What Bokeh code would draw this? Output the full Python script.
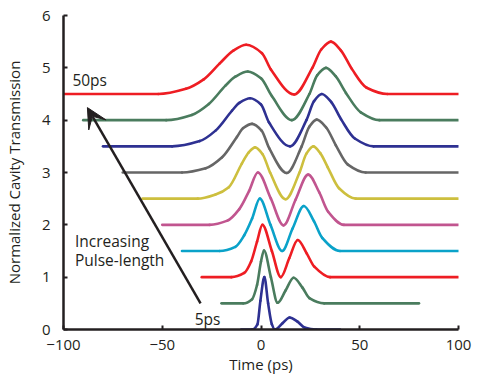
from bokeh.plotting import figure
from bokeh.models import Range1d, Arrow, VeeHead, FixedTicker, ColumnDataSource
from bokeh.core.properties import value
from bokeh.embed import file_html
from bokeh.resources import INLINE

# ---- data (time in ps, normalized transmission with offsets) ----
t_5ps = [-10, -4.5, -1.8, -0.3, 1.7, 3.6, 5.5, 7.0, 10.9, 14.5, 18.5, 22, 28, 40]
v_5ps = [0, 0, 0.1, 0.55, 1.0, 0.5, 0.1, 0.0, 0.12, 0.23, 0.15, 0.04, 0, 0]
t_10ps = [-20, -9, -4.5, -2, 0, 1.5, 5.0, 8.4, 12.5, 16.5, 21, 24.5, 32, 80]
v_10ps = [0.5, 0.5, 0.58, 0.85, 1.3, 1.51, 1.0, 0.51, 0.75, 0.99, 0.8, 0.6, 0.5, 0.5]
t_15ps = [-30, -15, -8.5, -5, -2, 0.7, 5.5, 10.0, 14.3, 18.6, 23.2, 27, 35, 100]
v_15ps = [1, 1, 1.08, 1.3, 1.68, 2.0, 1.5, 1.0, 1.36, 1.71, 1.45, 1.2, 1.0, 1.0]
t_20ps = [-40, -21, -13, -8.5, -4.5, -0.6, 4.8, 10.7, 16, 21.7, 26.8, 31, 40, 100]
v_20ps = [1.5, 1.5, 1.58, 1.8, 2.12, 2.5, 2.0, 1.5, 1.93, 2.36, 2.07, 1.75, 1.5, 1.5]
t_25ps = [-50, -26, -17, -11, -6, -1.6, 5.0, 11.4, 17.5, 23.9, 29.5, 34, 42, 100]
v_25ps = [2, 2, 2.08, 2.3, 2.65, 3.0, 2.5, 1.99, 2.48, 2.96, 2.62, 2.25, 2.0, 2.0]
t_30ps = [-60, -32, -23, -16.3, -9.7, -6.3, -3.0, 0.8, 4.6, 12.4, 19.5, 23, 26.5, 30, 33.8, 39.5, 48, 100]
v_30ps = [2.5, 2.5, 2.58, 2.72, 3.17, 3.38, 3.48, 3.35, 3.0, 2.49, 3.0, 3.36, 3.5, 3.37, 3.1, 2.7, 2.5, 2.5]
t_35ps = [-70, -40, -28, -19.7, -12.2, -9, -4.5, 0.3, 4.2, 13.0, 20.6, 24.4, 28.2, 33, 37.9, 44, 53, 100]
v_35ps = [3, 3, 3.08, 3.29, 3.68, 3.85, 3.93, 3.8, 3.46, 2.99, 3.5, 3.87, 4.01, 3.86, 3.52, 3.15, 3.0, 3.0]
t_40ps = [-80, -45, -31, -23, -14.7, -11, -5.5, 0, 4.0, 14.7, 23, 26.8, 30.8, 35.5, 40.5, 47.5, 57, 100]
v_40ps = [3.5, 3.5, 3.6, 3.8, 4.18, 4.33, 4.42, 4.3, 3.96, 3.5, 4.0, 4.36, 4.5, 4.35, 4.02, 3.65, 3.5, 3.5]
t_45ps = [-90, -48, -35, -26.4, -18, -13, -6.7, 0, 5.5, 15.6, 24.5, 28.5, 32.9, 37.8, 43, 50.5, 60, 100]
v_45ps = [4, 4, 4.1, 4.31, 4.66, 4.83, 4.93, 4.8, 4.46, 4.0, 4.5, 4.86, 5.0, 4.84, 4.52, 4.15, 4.0, 4.0]
t_50ps = [-100, -52, -38, -29, -21, -14, -7.5, 0.5, 5, 16.8, 26, 30.5, 35.4, 40.5, 46, 53.5, 64, 100]
v_50ps = [4.5, 4.5, 4.6, 4.78, 5.08, 5.33, 5.44, 5.28, 4.97, 4.49, 5.0, 5.35, 5.5, 5.33, 4.98, 4.62, 4.5, 4.5]

x_ticks = [-100, -50, 0, 50, 100]
y_ticks = [0, 1, 2, 3, 4, 5, 6]

series = [(t_5ps, v_5ps), (t_10ps, v_10ps), (t_15ps, v_15ps), (t_20ps, v_20ps),
          (t_25ps, v_25ps), (t_30ps, v_30ps), (t_35ps, v_35ps), (t_40ps, v_40ps),
          (t_45ps, v_45ps), (t_50ps, v_50ps)]
colors = ["#2E3192", "#4A7C5E", "#EE1D23", "#0AA2C9", "#C1558F",
          "#CDBF3E", "#666666", "#2E3192", "#4A7C5E", "#EE1D23"]


def smooth_segments(xs, ys):
    """Monotone cubic (PCHIP) Bezier control points through the read points."""
    n = len(xs)
    h = [xs[i + 1] - xs[i] for i in range(n - 1)]
    d = [(ys[i + 1] - ys[i]) / h[i] for i in range(n - 1)]
    m = [0.0] * n
    m[0] = d[0]
    m[-1] = d[-1]
    for k in range(1, n - 1):
        if d[k - 1] * d[k] <= 0:
            m[k] = 0.0
        else:
            w1 = 2 * h[k] + h[k - 1]
            w2 = h[k] + 2 * h[k - 1]
            m[k] = (w1 + w2) / (w1 / d[k - 1] + w2 / d[k])
    seg = dict(x0=[], y0=[], x1=[], y1=[], cx0=[], cy0=[], cx1=[], cy1=[])
    for k in range(n - 1):
        seg["x0"].append(xs[k]); seg["y0"].append(ys[k])
        seg["x1"].append(xs[k + 1]); seg["y1"].append(ys[k + 1])
        seg["cx0"].append(xs[k] + h[k] / 3); seg["cy0"].append(ys[k] + m[k] * h[k] / 3)
        seg["cx1"].append(xs[k + 1] - h[k] / 3); seg["cy1"].append(ys[k + 1] - m[k + 1] * h[k] / 3)
    return seg


p = figure(width=485, height=379, output_backend="svg", toolbar_location=None,
           x_range=Range1d(-100, 100), y_range=Range1d(0, 6),
           min_border_left=59, min_border_right=27, min_border_top=15, min_border_bottom=50)
p.outline_line_color = None
p.xgrid.visible = False
p.ygrid.visible = False

FONT = "Open Sans"
TXT = "#231F20"
for ax in (p.xaxis[0], p.yaxis[0]):
    ax.axis_line_color = TXT
    ax.axis_line_width = 2.5
    ax.major_tick_line_color = TXT
    ax.major_tick_line_width = 2
    ax.major_tick_in = 4
    ax.major_tick_out = 0
    ax.minor_tick_line_color = None
    ax.major_label_text_font = FONT
    ax.major_label_text_font_size = "15px"
    ax.major_label_text_color = TXT
    ax.axis_label_text_font = FONT
    ax.axis_label_text_font_size = "15px"
    ax.axis_label_text_font_style = "normal"
    ax.axis_label_text_color = TXT
p.xaxis[0].ticker = FixedTicker(ticks=x_ticks)
p.yaxis[0].ticker = FixedTicker(ticks=y_ticks)
p.xaxis[0].axis_label = "Time (ps)"
p.yaxis[0].axis_label = "Normalized Cavity Transmission"
p.xaxis[0].major_label_standoff = 10
p.xaxis[0].axis_label_standoff = 1
p.yaxis[0].major_label_standoff = 13
p.yaxis[0].axis_label_standoff = 15

for (xs, ys), c in zip(series, colors):
    src = ColumnDataSource(smooth_segments(xs, ys))
    p.bezier(x0="x0", y0="y0", x1="x1", y1="y1", cx0="cx0", cy0="cy0", cx1="cx1", cy1="cy1",
             source=src, line_color=c, line_width=2.6, line_cap="round")

p.add_layout(Arrow(end=VeeHead(size=20, fill_color=TXT, line_color=TXT),
                   x_start=-30.6, y_start=0.5, x_end=-87.9, y_end=4.24,
                   line_color=TXT, line_width=2.5))

p.text(x=[-95.5], y=[4.77], text=["50ps"], text_font=value(FONT), text_font_size="15.5px",
       text_color=TXT, text_baseline="middle")
p.text(x=[-33.6], y=[0.21], text=["5ps"], text_font=value(FONT), text_font_size="15.5px",
       text_color=TXT, text_baseline="middle")
p.text(x=[-94.2, -94.2], y=[1.70, 1.32], text=["Increasing", "Pulse-length"], text_font=value(FONT),
       text_font_size="15.5px", text_color=TXT, text_baseline="middle")

open("out.html", "w").write(file_html(p, INLINE))
